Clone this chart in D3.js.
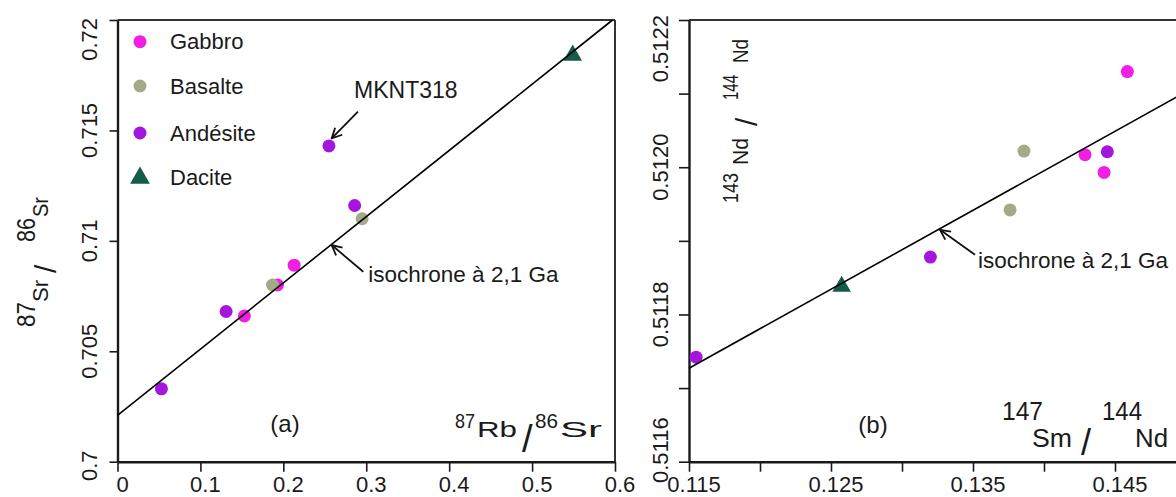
<!DOCTYPE html>
<html><head><meta charset="utf-8">
<script src="https://cdn.jsdelivr.net/npm/d3@7"></script>
<style>
html,body{margin:0;padding:0;background:#fff;}
svg{display:block;font-family:"Liberation Sans",Arial,Helvetica,sans-serif;}
</style></head><body>
<svg id="c" width="1176" height="497"></svg>
<script>
// ---------- data: panel (a) 87Rb/86Sr vs 87Sr/86Sr ----------
const gabbroA   = [[0.153,0.7066],[0.193,0.7080],[0.213,0.7089]];
const andesiteA = [[0.053,0.7033],[0.131,0.7068],[0.255,0.7143],[0.286,0.7116]];
const basalteA  = [[0.187,0.7080],[0.295,0.7110]];
const daciteA   = [[0.549,0.7184]];
const isochroneA = [[0,0.7021],[0.597,0.72]];
const xTicksA = [0,0.1,0.2,0.3,0.4,0.5,0.6];
const xTickLabelsA = ["0","0.1","0.2","0.3","0.4","0.5","0.6"];
const yTicksA = [0.7,0.705,0.71,0.715,0.72];
const yTickLabelsA = ["0.7","0.705","0.71","0.715","0.72"];

// ---------- data: panel (b) 147Sm/144Nd vs 143Nd/144Nd ----------
const gabbroB   = [[0.14289,0.512017],[0.14423,0.511993],[0.14587,0.51213]];
const andesiteB = [[0.1155,0.511742],[0.132,0.511878],[0.14446,0.512021]];
const basalteB  = [[0.13761,0.511942],[0.13859,0.512022]];
const daciteB   = [[0.12575,0.511838]];
const isochroneB = [[0.115,0.511727],[0.155,0.512156]];
const xTicksB = [0.115,0.12,0.125,0.13,0.135,0.14,0.145,0.15,0.155];
const xTickLabelsB = ["0.115","","0.125","","0.135","","0.145","",""];
const yTicksB = [0.5116,0.5117,0.5118,0.5119,0.512,0.5121,0.5122];
const yTickLabelsB = ["0.5116","","0.5118","","0.5120","","0.5122"];

const legendNames = ["Gabbro","Basalte","Andésite","Dacite"];
const colors = {Gabbro:"#f21ee6", Basalte:"#a3aa88", "Andésite":"#a416de", Dacite:"#155b49"};

// annotations (data coordinates)
const mkntArrow = [[0.290,0.71585],[0.2583,0.71464]];
const mkntText = [0.2853,0.71645];
const isoArrowA = [[0.2964,0.70860],[0.2583,0.70981]];
const isoTextA = [0.3025,0.70815];
const panelLabelA = [0.202,0.70134];
const isoArrowB = [[0.13514,0.511881],[0.13268,0.511915]];
const isoTextB = [0.13535,0.511863];
const panelLabelB = [0.12796,0.511639];

const svg = d3.select("#c");
svg.append("rect").attr("width",1176).attr("height",497).attr("fill","#fff");
const defs = svg.append("defs");
defs.append("marker").attr("id","arr").attr("viewBox","0 0 12 12")
  .attr("refX",11).attr("refY",6).attr("markerWidth",12).attr("markerHeight",12)
  .attr("markerUnits","userSpaceOnUse").attr("orient","auto")
  .append("path").attr("d","M1,1 L11,6 L1,11").attr("fill","none")
  .attr("stroke","#111").attr("stroke-width",1.8);

const ink = "#1a1a1a";
const plotTop = 20, plotBottom = 461.7;

function panel(o){
  const g = svg.append("g");
  const x = d3.scaleLinear().domain(o.xDomain).range(o.xRange);
  const y = d3.scaleLinear().domain(o.yDomain).range([plotBottom, plotTop]);
  // frame (top / right)
  g.append("line").attr("x1",o.xRange[0]).attr("x2",Math.min(o.xRange[1],1180))
    .attr("y1",plotTop).attr("y2",plotTop).attr("stroke","#333").attr("stroke-width",2);
  if (o.xRange[1] < 1176) g.append("line").attr("x1",o.xRange[1]).attr("x2",o.xRange[1])
    .attr("y1",plotTop).attr("y2",plotBottom).attr("stroke","#333").attr("stroke-width",2);
  // axes
  const ax = g.append("g").attr("transform",`translate(0,${plotBottom})`)
    .call(d3.axisBottom(x).tickValues(o.xTicks).tickSize(10).tickSizeOuter(0).tickFormat(""));
  const ay = g.append("g").attr("transform",`translate(${o.xRange[0]},0)`)
    .call(d3.axisLeft(y).tickValues(o.yTicks).tickSize(o.yTickLen).tickSizeOuter(0).tickFormat(""));
  [ax,ay].forEach(a=>{
    a.select(".domain").attr("stroke",ink).attr("stroke-width",2.4);
    a.selectAll(".tick line").attr("stroke",ink).attr("stroke-width",1.6);
  });
  // x tick labels
  const xl = o.xTicks.map((d,i)=>({v:d,s:o.xLabels[i]})).filter(d=>d.s);
  g.selectAll(".xl").data(xl).join("text")
    .attr("x",d=>x(d.v)+5).attr("y",492).attr("text-anchor","middle")
    .attr("font-size",22).attr("fill",ink)
    .text(d=>d.s);
  // y tick labels (rotated)
  const n = o.yTicks.length;
  const yl = o.yTicks.map((d,i)=>({v:d,s:o.yLabels[i],i})).filter(d=>d.s);
  g.selectAll(".yl").data(yl).join("text")
    .attr("transform",d=>{
      let yy = y(d.v);
      if (d.i===n-1) yy = o.topLabelY;
      if (d.i===0) yy = o.botLabelY;
      return `translate(${o.xRange[0]-21},${yy}) rotate(-90)`;
    })
    .attr("text-anchor",d=> d.i===n-1 ? "end" : (d.i===0 ? "start" : "middle"))
    .attr("font-size",22).attr("fill",ink)
    .text(d=>d.s);
  // points
  const pts = g.append("g");
  o.series.forEach(s=>{
    if (s.name==="Dacite"){
      pts.selectAll(null).data(s.data).join("path")
        .attr("transform",d=>`translate(${x(d[0])},${y(d[1])})`)
        .attr("d",d3.symbol(d3.symbolTriangle,150)())
        .attr("fill",colors[s.name]);
    } else {
      pts.selectAll(null).data(s.data).join("circle")
        .attr("cx",d=>x(d[0])).attr("cy",d=>y(d[1])).attr("r",6.5)
        .attr("fill",colors[s.name]);
    }
  });
  // isochrone
  g.append("path").datum(o.iso)
    .attr("d",d3.line().x(d=>x(d[0])).y(d=>y(d[1])))
    .attr("fill","none").attr("stroke","#000").attr("stroke-width",1.6);
  // arrows + annotation texts
  o.arrows.forEach(a=>{
    g.append("line").attr("x1",x(a[0][0])).attr("y1",y(a[0][1]))
      .attr("x2",x(a[1][0])).attr("y2",y(a[1][1]))
      .attr("stroke","#111").attr("stroke-width",1.8).attr("marker-end","url(#arr)");
  });
  o.texts.forEach(t=>{
    g.append("text").attr("x",x(t.p[0])).attr("y",y(t.p[1]))
      .attr("text-anchor",t.anchor||"start").attr("font-size",t.size||23)
      .attr("fill",ink).text(t.s);
  });
  return {x,y,g};
}

const A = panel({
  xDomain:[0,0.6], xRange:[117.5,615], yDomain:[0.7,0.72],
  xTicks:xTicksA, xLabels:xTickLabelsA, yTicks:yTicksA, yLabels:yTickLabelsA,
  yTickLen:8, topLabelY:18, botLabelY:481,
  series:[{name:"Gabbro",data:gabbroA},{name:"Andésite",data:andesiteA},
          {name:"Basalte",data:basalteA},{name:"Dacite",data:daciteA}],
  iso:isochroneA,
  arrows:[mkntArrow, isoArrowA],
  texts:[{p:mkntText,s:"MKNT318"},{p:isoTextA,s:"isochrone à 2,1 Ga",size:22.5},
         {p:panelLabelA,s:"(a)",anchor:"middle",size:24}]
});

const B = panel({
  xDomain:[0.115,0.155], xRange:[689,689+568], yDomain:[0.5116,0.5122],
  xTicks:xTicksB, xLabels:xTickLabelsB, yTicks:yTicksB, yLabels:yTickLabelsB,
  yTickLen:10, topLabelY:15, botLabelY:483,
  series:[{name:"Gabbro",data:gabbroB},{name:"Andésite",data:andesiteB},
          {name:"Basalte",data:basalteB},{name:"Dacite",data:daciteB}],
  iso:isochroneB,
  arrows:[isoArrowB],
  texts:[{p:isoTextB,s:"isochrone à 2,1 Ga",size:22.5},
         {p:panelLabelB,s:"(b)",anchor:"middle",size:24}]
});

// ---------- legend ----------
const leg = svg.append("g");
legendNames.forEach((nm,i)=>{
  const yy = [41.7,86,133,177][i];
  if (nm==="Dacite"){
    leg.append("path").attr("transform",`translate(140,${yy+1})`)
      .attr("d",d3.symbol(d3.symbolTriangle,170)()).attr("fill",colors[nm]);
  } else {
    leg.append("circle").attr("cx",140).attr("cy",yy).attr("r",6.5).attr("fill",colors[nm]);
  }
  leg.append("text").attr("x",170).attr("y",yy+7.5).attr("font-size",22)
    .attr("fill",ink).text(nm);
});

// ---------- axis titles ----------
function piece(parent, s, x, y, size, len){
  const t = parent.append("text").attr("x",x).attr("y",y).attr("font-size",size)
    .attr("fill",ink).text(s);
  if (len) t.attr("textLength",len).attr("lengthAdjust","spacingAndGlyphs");
  return t;
}
// (a) x title: 87Rb / 86Sr
const xtA = svg.append("g");
piece(xtA,"87",455,428,21,20);
piece(xtA,"Rb",477,437,22,40);
piece(xtA,"/",522,452,38);
piece(xtA,"86",535,428,21,23);
piece(xtA,"Sr",560,437,22,42);
// (a) y title: 87Sr / 86Sr (rotated)
const ytA = svg.append("g").attr("transform","translate(48,330) rotate(-90)");
piece(ytA,"87",3,-13,25,25);
piece(ytA,"Sr",28,0,22,22);
piece(ytA,"/",57,8,30);
piece(ytA,"86",88,-13,25,24);
piece(ytA,"Sr",113,0,22,20);
// (b) x title: 147 Sm / 144 Nd
const xtB = svg.append("g");
piece(xtB,"147",1002,420,26,41);
piece(xtB,"Sm",1032,447,25,40);
piece(xtB,"/",1081,455,36);
piece(xtB,"144",1102,420,26,40);
piece(xtB,"Nd",1135,447,25,33);
// (b) y title: 143 Nd / 144 Nd (rotated)
const ytB = svg.append("g").attr("transform","translate(748,205) rotate(-90)");
piece(ytB,"143",2,-10,22,30);
piece(ytB,"Nd",40,0,22,27);
piece(ytB,"/",79,9,30);
piece(ytB,"144",105,-10,22,25);
piece(ytB,"Nd",142,0,22,24);
</script>
</body></html>
